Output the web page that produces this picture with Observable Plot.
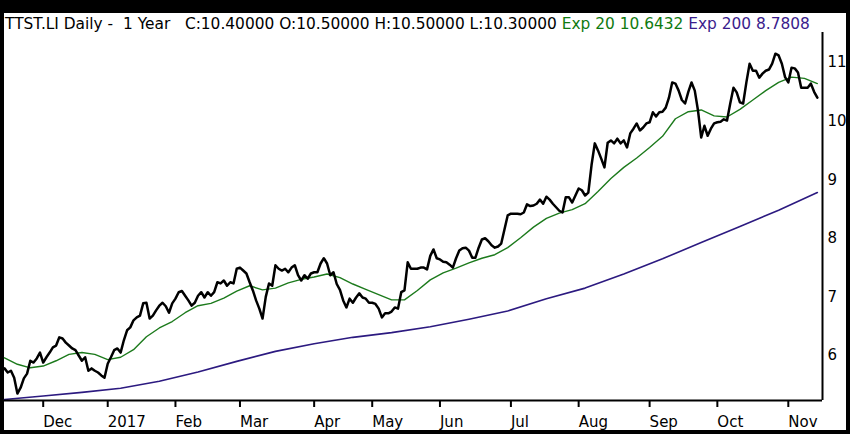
<!DOCTYPE html>
<html><head><meta charset="utf-8">
<script src="https://cdn.jsdelivr.net/npm/d3@7"></script>
<script src="https://cdn.jsdelivr.net/npm/@observablehq/plot@0.6"></script>
<style>
html,body{margin:0;padding:0;background:#000;}
body{width:850px;height:434px;overflow:hidden;position:relative;font-family:"DejaVu Sans",sans-serif;}
#panel{position:absolute;left:4px;top:13px;width:842px;height:417px;background:#fff;}
#title{position:absolute;left:1px;top:3px;font-size:15.4px;line-height:17px;white-space:pre;color:#000;}
#chart{position:absolute;left:0;top:19px;}
</style></head><body>
<div id="panel"><div id="title"></div><div id="chart"></div></div>
<script>
// Daily closes, one per trading day (15 Nov 2016 .. ~13 Nov 2017)
const closes = [
5.78,5.71,5.74,5.62,5.35,5.45,5.61,5.69,5.91,5.88,
5.95,6.05,5.88,5.97,6.05,6.14,6.17,6.31,6.29,6.22,
6.17,6.12,6.09,6.00,5.91,5.97,5.74,5.78,5.74,5.71,
5.66,5.62,5.86,5.97,6.09,6.12,6.05,6.26,6.43,6.48,
6.60,6.65,6.68,6.89,6.90,6.63,6.68,6.77,6.85,6.90,
6.84,6.73,6.89,6.97,7.08,7.10,7.02,6.94,6.85,6.90,
7.02,7.08,6.99,7.08,7.02,7.08,7.25,7.23,7.28,7.19,
7.25,7.23,7.48,7.50,7.45,7.40,7.25,7.11,6.94,6.80,
6.63,7.00,7.23,7.19,7.54,7.48,7.45,7.48,7.42,7.50,
7.54,7.37,7.28,7.37,7.31,7.40,7.42,7.42,7.57,7.66,
7.57,7.37,7.42,7.22,7.12,6.94,6.82,6.97,6.90,6.99,
7.06,6.99,6.97,6.90,6.90,6.88,6.80,6.65,6.72,6.72,
6.75,6.82,6.80,7.08,7.11,7.59,7.48,7.48,7.48,7.50,
7.50,7.47,7.70,7.81,7.66,7.64,7.60,7.59,7.55,7.50,
7.66,7.79,7.83,7.84,7.79,7.67,7.67,7.84,7.98,8.00,
7.95,7.88,7.84,7.86,7.91,8.15,8.39,8.42,8.42,8.42,
8.41,8.44,8.58,8.55,8.56,8.59,8.66,8.59,8.71,8.66,
8.59,8.53,8.47,8.44,8.70,8.70,8.61,8.73,8.85,8.82,
8.73,8.78,9.25,9.62,9.50,9.36,9.21,9.63,9.67,9.62,
9.70,9.62,9.67,9.55,9.79,9.87,9.96,9.84,9.89,9.96,
9.98,10.15,10.08,10.15,10.16,10.23,10.40,10.66,10.64,10.52,
10.36,10.30,10.50,10.66,10.52,10.18,9.72,9.92,9.75,9.87,
9.96,9.98,9.99,10.03,10.01,10.30,10.57,10.49,10.32,10.30,
10.66,10.98,10.86,10.86,10.74,10.81,10.86,10.88,10.98,11.15,
11.12,10.98,10.75,10.66,10.91,10.90,10.83,10.57,10.57,10.57,
10.64,10.50,10.40
];
// Exp 20 read every 4 trading days
const ema20Step = 4;
const ema20 = [
5.96,5.85,5.79,5.82,5.91,6.02,6.05,6.02,5.93,5.97,
6.10,6.32,6.47,6.58,6.73,6.85,6.89,6.98,7.10,7.19,
7.12,7.15,7.24,7.30,7.34,7.39,7.33,7.22,7.13,7.04,
6.95,6.95,7.11,7.29,7.41,7.49,7.58,7.66,7.72,7.84,
8.01,8.19,8.34,8.43,8.49,8.59,8.80,9.02,9.21,9.37,
9.55,9.74,10.04,10.16,10.19,10.09,10.07,10.20,10.36,10.52,
10.66,10.75,10.73,10.64
];
// Exp 200 read every 12 trading days
const ema200Step = 12;
const ema200 = [
5.25,5.31,5.37,5.44,5.56,5.72,5.90,6.07,6.20,6.31,
6.39,6.49,6.62,6.76,6.97,7.15,7.39,7.65,7.93,8.20,
8.48,8.78
];
const monthTickDays = [12,32,53,73,96,114,135,157,178,200,221,243];
const monthTickLabels = ["Dec","2017","Feb","Mar","Apr","May","Jun","Jul","Aug","Sep","Oct","Nov"];
const yTicks = [6,7,8,9,10,11];
const headerMain = "TTST.LI Daily -  1 Year   C:10.40000 O:10.50000 H:10.50000 L:10.30000 ";
const headerEma20 = "Exp 20 10.6432";
const headerEma200 = "Exp 200 8.7808";

const colEma20 = "#1c7a1c", colEma200 = "#2c1a80";
const xMax = 253.6, yMin = 5.232, yMax = 11.512;

const t = document.getElementById("title");
t.append(document.createTextNode(headerMain));
const s1 = document.createElement("span"); s1.style.color = "#0f7a0f"; s1.textContent = headerEma20; t.append(s1);
t.append(document.createTextNode(" "));
const s2 = document.createElement("span"); s2.style.color = "#3a1c8c"; s2.textContent = headerEma200; t.append(s2);

const closeData = closes.map((v, i) => ({day: i, v}));
const ema20Data = ema20.map((v, k) => ({day: k * ema20Step, v}));
const ema200Data = ema200.map((v, k) => ({day: k * ema200Step, v}));
const labelMap = new Map(monthTickDays.map((d, i) => [d, monthTickLabels[i]]));

const chart = Plot.plot({
  width: 842, height: 398,
  marginLeft: 0, marginRight: 24, marginTop: 0, marginBottom: 30,
  style: {background: "#fff", fontFamily: "DejaVu Sans", fontSize: "15px", color: "#000", overflow: "visible"},
  x: {domain: [0, xMax], label: null},
  y: {domain: [yMin, yMax], label: null},
  marks: [
    Plot.line(ema200Data, {x: "day", y: "v", stroke: colEma200, strokeWidth: 1.6}),
    Plot.line(ema20Data, {x: "day", y: "v", stroke: colEma20, strokeWidth: 1.4}),
    Plot.line(closeData, {x: "day", y: "v", stroke: "#000", strokeWidth: 2.5}),
    Plot.ruleY([yMin], {stroke: "#000", strokeWidth: 2}),
    Plot.ruleX([xMax], {stroke: "#000", strokeWidth: 2}),
    Plot.axisX({ticks: monthTickDays, tickFormat: d => labelMap.get(d), tickSize: 7, tickPadding: 9, textAnchor: "start", strokeWidth: 2, label: null}),
    Plot.axisY({anchor: "right", ticks: yTicks, tickSize: 0, tickPadding: 5, tickFormat: d => String(d), label: null})
  ]
});
document.getElementById("chart").append(chart);
</script>
</body></html>
